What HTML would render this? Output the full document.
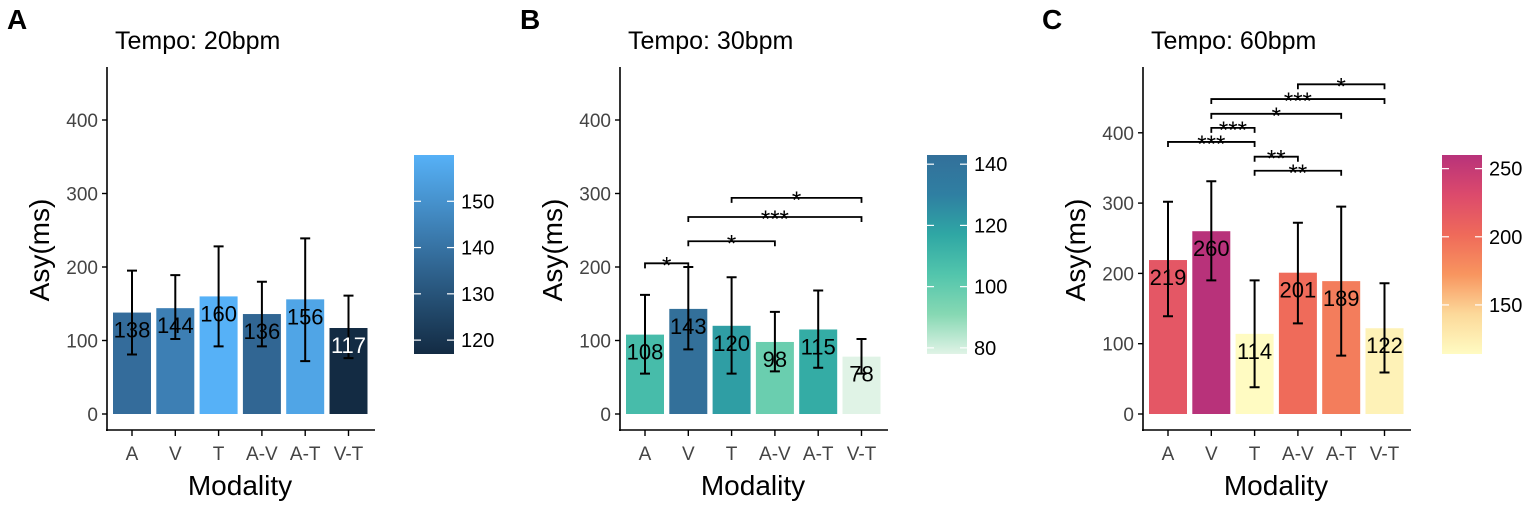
<!DOCTYPE html>
<html><head><meta charset="utf-8"><style>
body{margin:0;background:#fff;}
svg{display:block;font-family:"Liberation Sans",Arial,sans-serif;}
</style></head><body>
<svg id="fig" width="1535" height="506" viewBox="0 0 1535 506"></svg>
<script>
const categories = ["A","V","T","A-V","A-T","V-T"];
const valuesA = [138,144,160,136,156,117];
const lowA = [81,102,92,92,72,76];
const highA = [195,189,228,180,239,161];
const valuesB = [108,143,120,98,115,78];
const lowB = [55,88,55,58,63,55];
const highB = [162,200,186,139,168,102];
const valuesC = [219,260,114,201,189,122];
const lowC = [139,190,38,129,83,59];
const highC = [302,331,190,272,295,186];
const yTicks = [0,100,200,300,400];
const legendTicksA = [120,130,140,150];
const legendTicksB = [80,100,120,140];
const legendTicksC = [150,200,250];
// significance brackets: [from index, to index, bracket value, label]
const sigB = [[0,1,205,"*"],[1,3,235,"*"],[1,5,268,"***"],[2,5,294,"*"]];
const sigC = [[0,2,387,"***"],[1,2,407,"***"],[1,4,427,"*"],[1,5,448,"***"],[3,5,469,"*"],[2,3,366,"**"],[2,4,346,"**"]];

const NS="http://www.w3.org/2000/svg";
const svg=document.getElementById('fig');
function mk(tag,attrs,parent,text){const e=document.createElementNS(NS,tag);for(const k in attrs)e.setAttribute(k,attrs[k]);if(text!==undefined)e.textContent=text;(parent||svg).appendChild(e);return e;}
function hex2rgb(h){return [1,3,5].map(i=>parseInt(h.substr(i,2),16));}
function interp(stops,t){t=Math.max(0,Math.min(1,t));const n=stops.length-1;const i=Math.min(n-1,Math.floor(t*n));const f=t*n-i;const a=hex2rgb(stops[i]),b=hex2rgb(stops[i+1]);return 'rgb('+a.map((v,k)=>Math.round(v+(b[k]-v)*f)).join(',')+')';}

const panels=[
 {id:'a',letter:'A',lx:7,ax:107,title:'Tempo: 20bpm',vals:valuesA,lo:lowA,hi:highA,ppu:0.735,stops:['#132B43','#56B1F7'],lt:legendTicksA,lmin:117,lmax:160,legx:414,sig:[],labelCol:i=>valuesA[i]<125?'#fff':'#000'},
 {id:'b',letter:'B',lx:520,ax:620,title:'Tempo: 30bpm',vals:valuesB,lo:lowB,hi:highB,ppu:0.735,stops:['#e0f3e6','#86d8b3','#52c5ac','#2fa7a4','#2f7fa2','#33709a'],lt:legendTicksB,lmin:78,lmax:143,legx:927,sig:sigB,labelCol:()=>'#000'},
 {id:'c',letter:'C',lx:1042,ax:1143,title:'Tempo: 60bpm',vals:valuesC,lo:lowC,hi:highC,ppu:0.703,stops:['#fffbc2','#fcd99a','#f8955f','#ef6a5a','#dc4a6c','#b8327a'],lt:legendTicksC,lmin:114,lmax:260,legx:1442,sig:sigC,labelCol:()=>'#000'}
];

panels.forEach(p=>{
 const g=mk('g',{},svg);
 
 
 const y0=414;
 const y=v=>y0-v*p.ppu;
 const x=i=>p.ax+25+i*43.3;
 const lab=mk('text',{x:p.lx,y:29,'font-size':28,'font-weight':'bold',fill:'#000'},g,p.letter);
 
 const t=mk('text',{x:p.ax+8,y:49,'font-size':25,fill:'#000'},g,p.title);
 
 const ya=mk('line',{x1:p.ax,y1:67,x2:p.ax,y2:431,stroke:'#000','stroke-width':1.6},g);
 
 const xa=mk('line',{x1:p.ax-1,y1:430,x2:p.ax+268,y2:430,stroke:'#000','stroke-width':1.6},g);
 
 yTicks.forEach(v=>{
  mk('line',{x1:p.ax-5,y1:y(v),x2:p.ax,y2:y(v),stroke:'#000','stroke-width':1.4},g);
  const tl=mk('text',{x:p.ax-9,y:y(v)+7,'font-size':19,fill:'#444','text-anchor':'end'},g,v);
  
 });
 categories.forEach((c,i)=>{
  mk('line',{x1:x(i),y1:430,x2:x(i),y2:436,stroke:'#000','stroke-width':1.4},g);
  const tl=mk('text',{x:x(i),y:460,'font-size':19,fill:'#444','text-anchor':'middle'},g,c);
  
 });
 const xt=mk('text',{x:p.ax+133,y:495,'font-size':28,fill:'#000','text-anchor':'middle'},g,'Modality');
 
 const yt=mk('text',{x:0,y:0,'font-size':28,fill:'#000','text-anchor':'middle',transform:`translate(${p.ax-58},250) rotate(-90)`},g,'Asy(ms)');
 
 p.vals.forEach((v,i)=>{
  const col=interp(p.stops,(v-p.lmin)/(p.lmax-p.lmin));
  const b=mk('rect',{x:x(i)-19,y:y(v),width:38,height:v*p.ppu,fill:col},g);
  
  
 });
 p.vals.forEach((v,i)=>{
  const lo=y(p.lo[i]),hi=y(p.hi[i]);
  const e=mk('path',{d:`M${x(i)} ${lo}V${hi}M${x(i)-5} ${lo}H${x(i)+5}M${x(i)-5} ${hi}H${x(i)+5}`,stroke:'#000','stroke-width':2,fill:'none'},g);
  
  const tl=mk('text',{x:x(i),y:y(v)+25,'font-size':22,fill:p.labelCol(i),'text-anchor':'middle'},g,v);
  
 });
 p.sig.forEach(s=>{
  const yy=y(s[2]);const x1=x(s[0]),x2=x(s[1]);
  const br=mk('path',{d:`M${x1} ${yy+5}V${yy}H${x2}V${yy+5}`,stroke:'#000','stroke-width':1.8,fill:'none'},g);
  
  const st=mk('text',{x:(x1+x2)/2,y:yy+10,'font-size':24,fill:'#000','text-anchor':'middle'},g,s[3]);
  
 });
 const gid='grad-'+p.id;
 const defs=mk('defs',{},g);
 const lg=mk('linearGradient',{id:gid,x1:0,y1:1,x2:0,y2:0},defs);
 p.stops.forEach((c,k)=>mk('stop',{offset:k/(p.stops.length-1),'stop-color':c},lg));
 const lt=155,lb=354;
 const lr=mk('rect',{x:p.legx,y:lt,width:40,height:lb-lt,fill:`url(#${gid})`},g);
 
 const ly=v=>lb-(v-p.lmin)/(p.lmax-p.lmin)*(lb-lt);
 p.lt.forEach(v=>{
  mk('line',{x1:p.legx,y1:ly(v),x2:p.legx+7,y2:ly(v),stroke:'#fff','stroke-width':1.2},g);
  mk('line',{x1:p.legx+33,y1:ly(v),x2:p.legx+40,y2:ly(v),stroke:'#fff','stroke-width':1.2},g);
  const tl=mk('text',{x:p.legx+47,y:ly(v)+7,'font-size':20,fill:'#000'},g,v);
  
 });
});
</script>
</body></html>
